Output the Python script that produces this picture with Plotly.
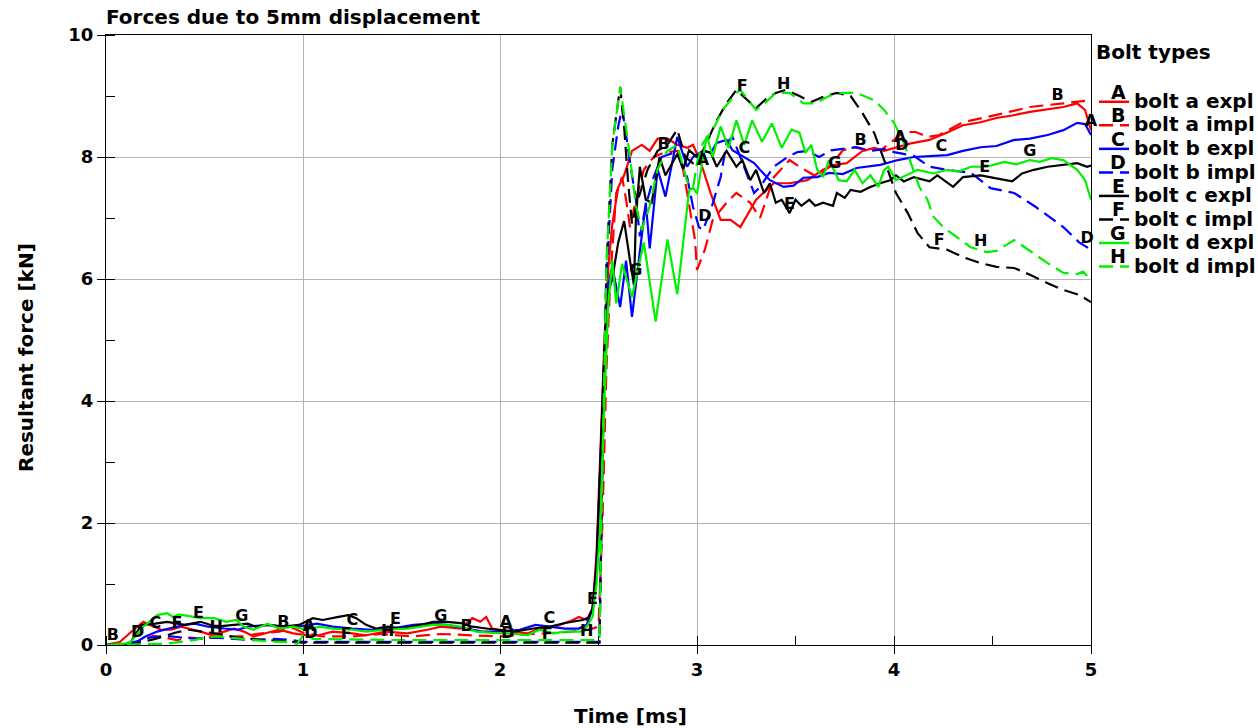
import numpy as np
import plotly.graph_objects as go

# ---- data: (time [ms], resultant force [kN]) ----
A_pts = [(0,0),(0.07,0.05),(0.14,0.25),(0.19,0.38),(0.22,0.33),(0.28,0.25),(0.33,0.25),(0.38,0.3),(0.48,0.22),(0.54,0.16),
         (0.6,0.22),(0.65,0.27),(0.7,0.22),(0.75,0.14),(0.82,0.2),(0.88,0.25),(0.95,0.19),(1.02,0.16),(1.08,0.16),(1.15,0.22),
         (1.25,0.19),(1.32,0.16),(1.42,0.22),(1.53,0.19),(1.63,0.25),(1.7,0.3),(1.8,0.27),(1.86,0.44),(1.9,0.38),(1.93,0.46),
         (1.96,0.27),(2.05,0.22),(2.14,0.19),(2.2,0.27),(2.28,0.3),(2.33,0.36),(2.37,0.41),(2.4,0.46),(2.44,0.41),(2.47,0.6),
         (2.49,1.5),(2.51,3.2),(2.53,5.0),(2.55,6.2),(2.57,6.9),(2.6,7.5),(2.63,7.7),(2.67,8.1),(2.72,8.2),(2.76,8.1),
         (2.8,8.3),(2.85,8.3),(2.9,8.2),(2.95,8.15),(2.98,8.2),(3.02,7.9),(3.07,7.4),(3.12,6.97),(3.17,6.97),(3.22,6.85),
         (3.27,7.13),(3.3,7.3),(3.39,7.57),(3.47,7.57),(3.56,7.62),(3.64,7.79),(3.7,7.87),(3.76,7.9),(3.84,8.1),(3.9,8.15),
         (3.95,8.1),(4.01,8.16),(4.08,8.22),(4.18,8.28),(4.27,8.4),(4.35,8.52),(4.44,8.57),(4.52,8.64),(4.6,8.68),(4.69,8.74),
         (4.78,8.78),(4.86,8.82),(4.93,8.88),(4.97,8.77),(5.0,8.44)]

B_pts = [(0,0),(0.1,0.03),(0.15,0.05),(0.19,0.08),(0.24,0.15),(0.3,0.12),(0.36,0.08),(0.42,0.12),(0.5,0.1),(0.56,0.16),
         (0.62,0.14),(0.7,0.14),(0.76,0.18),(0.82,0.2),(0.88,0.22),(0.95,0.28),(1.0,0.2),(1.1,0.14),(1.25,0.14),(1.4,0.18),
         (1.55,0.14),(1.7,0.18),(1.85,0.16),(2.0,0.14),(2.15,0.18),(2.3,0.2),(2.45,0.25),(2.5,0.3),(2.52,2.0),(2.54,4.5),
         (2.56,6.0),(2.59,7.41),(2.62,7.67),(2.64,7.3),(2.66,6.85),(2.69,7.3),(2.73,7.79),(2.78,8.0),(2.83,8.07),(2.9,8.1),
         (2.93,7.79),(2.96,7.18),(2.99,6.64),(3.0,6.15),(3.04,6.48),(3.08,6.97),(3.15,7.25),(3.2,7.41),(3.27,7.25),(3.32,7.0),
         (3.39,7.67),(3.47,7.95),(3.52,7.84),(3.61,7.67),(3.69,7.9),(3.74,8.11),(3.8,8.16),(3.87,8.1),(3.94,8.13),(4.0,8.28),
         (4.05,8.41),(4.11,8.41),(4.17,8.33),(4.23,8.36),(4.35,8.57),(4.52,8.69),(4.69,8.82),(4.86,8.88),(4.96,8.92),(5.0,8.93)]

C_pts = [(0,0),(0.13,0),(0.2,0.14),(0.26,0.22),(0.32,0.27),(0.4,0.33),(0.45,0.35),(0.52,0.3),(0.6,0.27),(0.67,0.25),
         (0.72,0.3),(0.82,0.33),(0.9,0.3),(0.98,0.3),(1.07,0.35),(1.15,0.3),(1.25,0.27),(1.35,0.25),(1.45,0.27),(1.56,0.33),
         (1.65,0.35),(1.73,0.33),(1.83,0.27),(1.91,0.22),(2.0,0.22),(2.1,0.25),(2.18,0.33),(2.25,0.3),(2.33,0.27),(2.4,0.27),
         (2.44,0.33),(2.47,0.6),(2.49,1.3),(2.51,3.0),(2.53,4.8),(2.55,5.9),(2.57,6.2),(2.61,5.54),(2.64,6.3),(2.67,5.38),
         (2.71,6.4),(2.74,7.25),(2.76,6.5),(2.8,7.8),(2.84,7.35),(2.9,8.33),(2.95,7.84),(2.98,8.0),(3.03,8.1),(3.07,8.07),
         (3.1,8.23),(3.15,8.28),(3.18,8.11),(3.24,8.0),(3.29,7.9),(3.32,7.79),(3.37,7.62),(3.44,7.51),(3.49,7.53),(3.54,7.66),
         (3.61,7.67),(3.67,7.74),(3.74,7.72),(3.81,7.82),(3.93,7.87),(4.02,7.95),(4.1,8.0),(4.27,8.03),(4.35,8.1),(4.44,8.16),
         (4.52,8.18),(4.61,8.28),(4.69,8.3),(4.78,8.36),(4.86,8.44),(4.93,8.56),(4.97,8.54),(5.0,8.36)]

D_pts = [(0,0),(0.1,0.02),(0.16,0.06),(0.22,0.12),(0.3,0.15),(0.38,0.12),(0.46,0.1),(0.55,0.12),(0.65,0.1),(0.75,0.08),
         (0.85,0.1),(0.95,0.08),(1.0,0.05),(1.5,0.05),(2.0,0.05),(2.505,0.05),(2.52,3.0),(2.54,6.0),(2.57,7.8),(2.6,8.5),
         (2.62,8.8),(2.64,8.33),(2.67,7.7),(2.69,7.3),(2.71,6.7),(2.74,7.2),(2.78,7.67),(2.82,8.0),(2.88,8.07),(2.91,8.0),
         (2.95,7.67),(2.98,7.18),(3.01,6.85),(3.03,6.8),(3.07,7.13),(3.12,7.67),(3.15,8.23),(3.18,8.33),(3.24,7.84),(3.29,7.41),
         (3.32,7.51),(3.39,7.84),(3.46,8.0),(3.51,8.08),(3.56,8.1),(3.62,8.0),(3.68,8.11),(3.74,8.13),(3.81,8.16),(3.88,8.1),
         (3.95,8.13),(4.0,8.08),(4.1,8.02),(4.18,7.84),(4.27,7.79),(4.39,7.74),(4.44,7.62),(4.49,7.49),(4.61,7.41),(4.72,7.18),
         (4.86,6.85),(4.94,6.6),(5.0,6.48)]

E_pts = [(0,0),(0.12,0.02),(0.18,0.33),(0.25,0.35),(0.31,0.38),(0.36,0.35),(0.4,0.33),(0.48,0.38),(0.56,0.3),(0.65,0.33),
         (0.72,0.35),(0.76,0.3),(0.82,0.33),(0.9,0.3),(0.98,0.33),(1.05,0.44),(1.1,0.41),(1.18,0.46),(1.23,0.49),(1.27,0.44),
         (1.32,0.33),(1.37,0.27),(1.43,0.3),(1.5,0.27),(1.6,0.33),(1.66,0.38),(1.73,0.38),(1.8,0.36),(1.86,0.3),(1.93,0.27),
         (2.0,0.25),(2.07,0.22),(2.17,0.27),(2.25,0.3),(2.33,0.36),(2.37,0.38),(2.42,0.41),(2.45,0.45),(2.47,0.6),(2.49,1.3),
         (2.51,3.0),(2.53,4.8),(2.55,5.8),(2.57,6.0),(2.6,6.6),(2.63,6.95),(2.66,6.3),(2.68,5.9),(2.69,7.0),(2.71,7.84),
         (2.74,7.3),(2.77,7.25),(2.81,8.0),(2.84,7.7),(2.9,8.05),(2.93,7.8),(2.96,8.11),(3.0,8.0),(3.04,8.1),(3.07,8.07),
         (3.1,7.84),(3.15,8.1),(3.2,7.84),(3.23,7.95),(3.27,7.62),(3.3,7.79),(3.34,7.41),(3.37,7.57),(3.4,7.25),(3.43,7.3),
         (3.47,7.08),(3.5,7.3),(3.53,7.2),(3.57,7.3),(3.6,7.2),(3.64,7.25),(3.69,7.2),(3.71,7.41),(3.75,7.33),(3.78,7.46),
         (3.83,7.43),(3.88,7.51),(3.93,7.57),(3.98,7.62),(4.01,7.7),(4.05,7.6),(4.1,7.67),(4.18,7.6),(4.22,7.7),(4.3,7.51),
         (4.35,7.67),(4.44,7.7),(4.52,7.65),(4.6,7.6),(4.65,7.73),(4.71,7.79),(4.78,7.84),(4.86,7.87),(4.93,7.9),(4.98,7.84),
         (5.0,7.86)]

F_pts = [(0,0),(0.15,0.02),(0.25,0.1),(0.35,0.2),(0.42,0.25),(0.5,0.22),(0.58,0.18),(0.66,0.12),(0.75,0.1),(0.85,0.08),
         (0.95,0.06),(1.0,0.04),(1.5,0.04),(2.0,0.04),(2.505,0.04),(2.52,3.0),(2.54,6.2),(2.57,8.2),(2.61,9.15),(2.63,8.5),
         (2.65,7.6),(2.67,6.9),(2.7,7.3),(2.75,7.8),(2.8,8.1),(2.85,8.2),(2.9,8.45),(2.94,8.0),(2.98,7.9),(3.03,8.1),
         (3.07,8.4),(3.1,8.6),(3.15,8.88),(3.2,9.1),(3.25,8.95),(3.3,8.8),(3.35,8.95),(3.4,9.05),(3.45,9.1),(3.52,9.0),
         (3.58,8.9),(3.65,9.0),(3.71,9.05),(3.78,9.0),(3.84,8.72),(3.9,8.39),(3.95,7.95),(4.01,7.41),(4.07,7.08),(4.12,6.75),
         (4.18,6.52),(4.27,6.48),(4.35,6.36),(4.44,6.26),(4.52,6.2),(4.61,6.18),(4.69,6.07),(4.78,5.93),(4.86,5.82),(4.94,5.74),
         (5.0,5.62)]

G_pts = [(0,0),(0.12,0.03),(0.19,0.3),(0.26,0.49),(0.31,0.52),(0.34,0.46),(0.37,0.5),(0.42,0.47),(0.48,0.44),(0.55,0.44),
         (0.61,0.38),(0.66,0.41),(0.7,0.3),(0.75,0.25),(0.82,0.35),(0.88,0.27),(0.95,0.3),(1.02,0.25),(1.08,0.3),(1.15,0.27),
         (1.25,0.25),(1.32,0.22),(1.42,0.25),(1.53,0.27),(1.6,0.3),(1.66,0.33),(1.73,0.33),(1.8,0.3),(1.88,0.22),(1.96,0.2),
         (2.05,0.19),(2.14,0.16),(2.2,0.25),(2.27,0.19),(2.33,0.22),(2.41,0.22),(2.44,0.3),(2.47,0.46),(2.49,1.0),(2.51,2.0),
         (2.53,4.0),(2.55,5.6),(2.57,6.3),(2.59,5.6),(2.62,6.25),(2.67,5.7),(2.73,6.6),(2.79,5.3),(2.85,6.65),(2.9,5.75),
         (2.96,7.45),(2.98,7.5),(3.0,7.4),(3.05,8.35),(3.08,8.0),(3.12,8.5),(3.16,8.15),(3.2,8.6),(3.24,8.2),(3.28,8.6),
         (3.33,8.25),(3.38,8.55),(3.43,8.15),(3.48,8.45),(3.52,8.4),(3.55,8.07),(3.58,8.2),(3.61,7.79),(3.64,7.67),(3.67,7.95),
         (3.72,7.62),(3.76,7.6),(3.8,7.79),(3.84,7.57),(3.88,7.7),(3.92,7.51),(3.95,7.79),(3.97,7.84),(4.01,7.62),(4.06,7.7),
         (4.12,7.79),(4.2,7.73),(4.27,7.79),(4.33,7.76),(4.39,7.84),(4.47,7.84),(4.56,7.92),(4.62,7.88),(4.69,7.95),(4.74,7.92),
         (4.8,7.98),(4.86,7.95),(4.93,7.79),(4.97,7.62),(5.0,7.3)]

H_pts = [(0,0),(0.3,0.02),(0.45,0.08),(0.5,0.12),(0.56,0.14),(0.62,0.12),(0.68,0.1),(0.75,0.08),(0.82,0.06),(0.9,0.05),
         (0.97,0.02),(1.01,0.2),(1.05,0.1),(1.5,0.08),(2.0,0.08),(2.505,0.08),(2.52,3.0),(2.54,6.2),(2.57,8.2),(2.61,9.15),
         (2.63,8.7),(2.66,8.0),(2.69,7.2),(2.72,6.8),(2.76,7.2),(2.8,7.8),(2.85,8.1),(2.9,8.2),(2.95,7.6),(2.98,7.5),
         (3.0,7.9),(3.03,8.23),(3.08,8.44),(3.13,8.77),(3.2,9.05),(3.22,9.1),(3.3,8.77),(3.35,8.9),(3.4,9.05),(3.47,9.05),
         (3.54,8.88),(3.6,8.88),(3.67,9.0),(3.74,9.05),(3.81,9.05),(3.9,8.93),(3.95,8.77),(4.0,8.56),(4.05,8.23),(4.1,7.79),
         (4.13,7.5),(4.17,7.3),(4.2,7.02),(4.25,6.85),(4.32,6.69),(4.39,6.52),(4.47,6.44),(4.52,6.46),(4.61,6.64),(4.69,6.46),
         (4.78,6.26),(4.86,6.1),(4.93,6.08),(4.96,6.12),(5.0,5.98)]

# times at which the curve letters are written
A_lab = [1.03, 2.03, 3.03, 4.03, 5.0]
B_lab = [0.035, 0.9, 1.83, 2.83, 3.83, 4.83]
C_lab = [0.25, 1.25, 2.25, 3.24, 4.24]
D_lab = [0.16, 1.04, 2.04, 3.04, 4.04, 4.98]
E_lab = [0.47, 1.47, 2.47, 3.47, 4.46]
F_lab = [0.36, 1.22, 2.24, 3.23, 4.23]
G_lab = [0.69, 1.70, 2.69, 3.70, 4.69]
H_lab = [0.56, 1.43, 2.44, 3.44, 4.44]

letters = ["A", "B", "C", "D", "E", "F", "G", "H"]
names = ["bolt a expl", "bolt a impl", "bolt b expl", "bolt b impl",
         "bolt c expl", "bolt c impl", "bolt d expl", "bolt d impl"]

# ---- styling ----
FONT = "DejaVu Sans"
colors = ["#ff0000", "#ff0000", "#0000ff", "#0000ff", "#000000", "#000000", "#00f000", "#00f000"]
dashes = ["solid", "14px,7px"] * 4
series_pts = [A_pts, B_pts, C_pts, D_pts, E_pts, F_pts, G_pts, H_pts]
series_lab = [A_lab, B_lab, C_lab, D_lab, E_lab, F_lab, G_lab, H_lab]

W, H = 1258, 728
ML, MR, MT, MB = 106, 167, 35, 83
PW, PH = W - ML - MR, H - MT - MB


def paper_x(px):
    return (px - ML) / PW


def paper_y(py):
    return (H - MB - py) / PH


fig = go.Figure()
for pts, col, dsh in zip(series_pts, colors, dashes):
    t = [p[0] for p in pts]
    f = [p[1] for p in pts]
    fig.add_trace(go.Scatter(x=t, y=f, mode="lines", line=dict(color=col, width=2.2, dash=dsh),
                             showlegend=False, hoverinfo="skip"))

for pts, labs, let in zip(series_pts, series_lab, letters):
    t = [p[0] for p in pts]
    f = [p[1] for p in pts]
    ly = np.interp(labs, t, f)
    fig.add_trace(go.Scatter(x=labs, y=ly, mode="text", text=[let] * len(labs), textposition="top center",
                             textfont=dict(family=FONT, size=16, color="black", weight="bold"),
                             showlegend=False, cliponaxis=False, hoverinfo="skip"))

# legend entries
for nm, col, dsh in zip(names, colors, dashes):
    fig.add_trace(go.Scatter(x=[None], y=[None], mode="lines",
                             line=dict(color=col, width=2.5, dash=dsh),
                             name='<span style="font-size:20px">' + nm + "</span>"))

# curve letters written on the legend line samples
LEG_LEFT = 1094          # legend box left edge, px
LEG_TOP = 33             # legend box top edge, px
LEG_ROW0 = 100.5         # centre of the first legend row, px
LEG_STEP = 23.55         # legend row pitch, px
legend_letters = [
    dict(text=let, xref="paper", yref="paper", x=paper_x(LEG_LEFT + 24), y=paper_y(LEG_ROW0 + LEG_STEP * i + 4),
         xanchor="center", yanchor="bottom", showarrow=False,
         font=dict(family=FONT, size=19, color="black", weight="bold"))
    for i, let in enumerate(letters)
]

axis_common = dict(
    showline=True, linecolor="black", linewidth=1, mirror=True,
    showgrid=True, gridcolor="#b4b4b4", gridwidth=1, zeroline=False,
    ticks="outside", ticklen=8, tickcolor="black", tickwidth=1,
    tickfont=dict(family=FONT, size=18, color="black", weight="bold"),
)

fig.update_layout(
    width=W, height=H,
    margin=dict(l=ML, r=MR, t=MT, b=MB, autoexpand=False),
    paper_bgcolor="white", plot_bgcolor="white",
    font=dict(family=FONT, color="black"),
    title=dict(text="Forces due to 5mm displacement", x=ML / W, xanchor="left",
               y=1 - 17 / H, yanchor="middle",
               font=dict(family=FONT, size=20, color="black", weight="bold")),
    xaxis=dict(range=[0, 5], tick0=0, dtick=1,
               minor=dict(dtick=0.5, ticks="inside", ticklen=9, tickcolor="black", showgrid=False),
               **axis_common),
    yaxis=dict(range=[0, 10], tick0=0, dtick=2,
               minor=dict(dtick=1, ticks="inside", ticklen=9, tickcolor="black", showgrid=False),
               **axis_common),
    legend=dict(x=paper_x(LEG_LEFT), xanchor="left", y=paper_y(LEG_TOP), yanchor="top", itemwidth=30,
                bgcolor="rgba(0,0,0,0)", tracegroupgap=0,
                font=dict(family=FONT, size=15.8, color="black", weight="bold"),
                title=dict(text="Bolt types<br> ", side="top",
                           font=dict(family=FONT, size=20, color="black", weight="bold"))),
    annotations=[
        dict(text="Time [ms]", xref="paper", yref="paper", x=paper_x(630), y=paper_y(716),
             showarrow=False, xanchor="center", yanchor="middle",
             font=dict(family=FONT, size=20, color="black", weight="bold")),
        dict(text="Resultant force [kN]", xref="paper", yref="paper", x=paper_x(26), y=paper_y(358),
             textangle=-90, showarrow=False, xanchor="center", yanchor="middle",
             font=dict(family=FONT, size=20, color="black", weight="bold")),
    ] + legend_letters,
)

fig.write_html("out.html", config={"displayModeBar": False},
               post_script="document.body.style.margin='0';")
